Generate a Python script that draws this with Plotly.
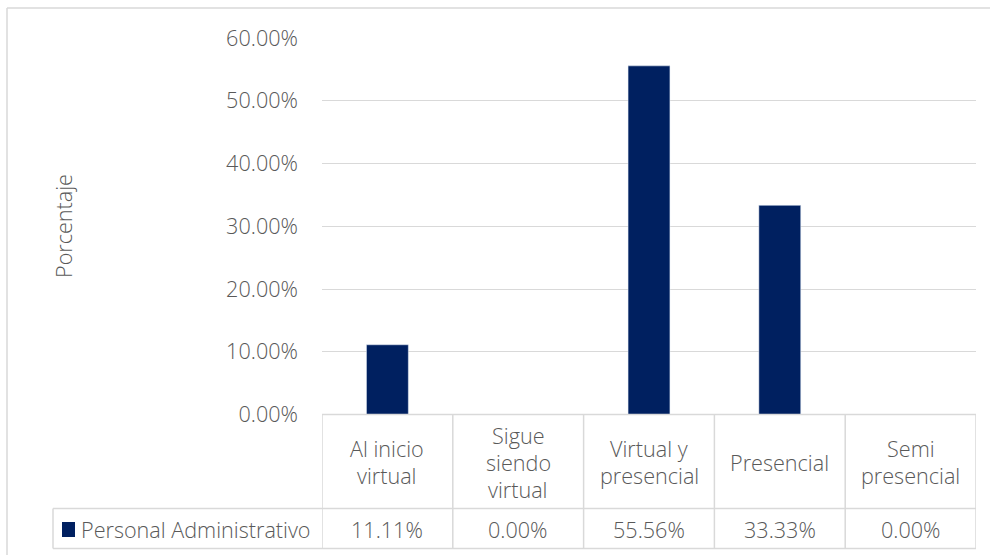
import plotly.graph_objects as go

categories = ["Al inicio<br>virtual", "Sigue<br>siendo<br>virtual", "Virtual y<br>presencial", "Presencial", "Semi<br>presencial"]
series_name = "Personal Administrativo"
values = [0.1111, 0.0, 0.5556, 0.3333, 0.0]
value_labels = ["11.11%", "0.00%", "55.56%", "33.33%", "0.00%"]
tick_vals = [0, 0.1, 0.2, 0.3, 0.4, 0.5, 0.6]
tick_text = ["0.00%", "10.00%", "20.00%", "30.00%", "40.00%", "50.00%", "60.00%"]
y_title = "Porcentaje"

W, H = 990, 555
FONT = "Open Sans"
FS = 21.6
WT = 300
TXT = "#595959"
GRID = "#d9d9d9"
BAR = "#002060"

def px(x):
    return x / W

def py(y):
    return 1 - y / H

def f():
    return dict(family=FONT, size=FS, color=TXT, weight=WT)

x_idx = list(range(len(categories)))

fig = go.Figure()
fig.add_trace(go.Bar(x=x_idx, y=values, marker_color=BAR, width=0.32, name=series_name, showlegend=False))

y_top, y_axis, y_row, y_bot = 38, 414.5, 508.5, 548.5
x_left, x_right, x_legend = 322, 976, 53

fig.update_layout(
    width=W, height=H,
    autosize=False,
    margin=dict(l=0, r=0, t=0, b=0, pad=0),
    paper_bgcolor="white", plot_bgcolor="white",
    font=f(),
    showlegend=False,
    xaxis=dict(domain=[px(x_left), px(x_right)], range=[-0.5, 4.5], showticklabels=False,
               showgrid=False, zeroline=False, fixedrange=True, automargin=False),
    yaxis=dict(domain=[py(y_axis), py(y_top)], range=[0, 0.6], tickvals=tick_vals, ticktext=tick_text,
               showgrid=True, gridcolor=GRID, gridwidth=1.3, zeroline=False, automargin=False,
               tickfont=f(), ticklabelstandoff=23, fixedrange=True),
)

shapes = []
line = dict(color=GRID, width=1.5)
shapes.append(dict(type="line", xref="paper", yref="paper", x0=px(7), x1=1.0, y0=py(8), y1=py(8), line=line))
shapes.append(dict(type="line", xref="paper", yref="paper", x0=px(7), x1=px(7), y0=py(8), y1=0, line=line))
shapes.append(dict(type="line", xref="paper", yref="paper", x0=px(x_left), x1=px(x_right), y0=py(y_axis), y1=py(y_axis), line=line))
shapes.append(dict(type="line", xref="paper", yref="paper", x0=px(x_legend), x1=px(x_right), y0=py(y_row), y1=py(y_row), line=line))
shapes.append(dict(type="line", xref="paper", yref="paper", x0=px(x_legend), x1=px(x_right), y0=py(y_bot), y1=py(y_bot), line=line))
shapes.append(dict(type="line", xref="paper", yref="paper", x0=px(x_legend), x1=px(x_legend), y0=py(y_row), y1=py(y_bot), line=line))
for i in range(len(categories) + 1):
    shapes.append(dict(type="line", xref="x", yref="paper", x0=i - 0.5, x1=i - 0.5, y0=py(y_axis), y1=py(y_bot), line=line))
shapes.append(dict(type="rect", xref="paper", yref="paper", x0=px(62), x1=px(75), y0=py(537), y1=py(522),
                   fillcolor=BAR, line=dict(width=0)))
fig.update_layout(shapes=shapes)

ann = []
head_center = 462
pitch = 27
for i, lab in enumerate(categories):
    parts = lab.split("<br>")
    n = len(parts)
    for j, p in enumerate(parts):
        yy = head_center + (j - (n - 1) / 2) * pitch
        ann.append(dict(x=i, xref="x", y=py(yy), yref="paper", text=p, showarrow=False,
                        font=f(), xanchor="center", yanchor="middle"))
for i, t in enumerate(value_labels):
    ann.append(dict(x=i, xref="x", y=py(529), yref="paper", text=t, showarrow=False,
                    font=f(), xanchor="center", yanchor="middle"))
ann.append(dict(x=px(79), xref="paper", y=py(529), yref="paper", text=series_name, showarrow=False,
                font=f(), xanchor="left", yanchor="middle"))
ann.append(dict(x=px(63), xref="paper", y=py(226), yref="paper", text=y_title, showarrow=False, textangle=-90,
                font=f(), xanchor="center", yanchor="middle"))
fig.update_layout(annotations=ann)

fig.write_html("out.html", config={"displayModeBar": False},
               post_script="document.body.style.margin='0';document.body.style.overflow='hidden';")
